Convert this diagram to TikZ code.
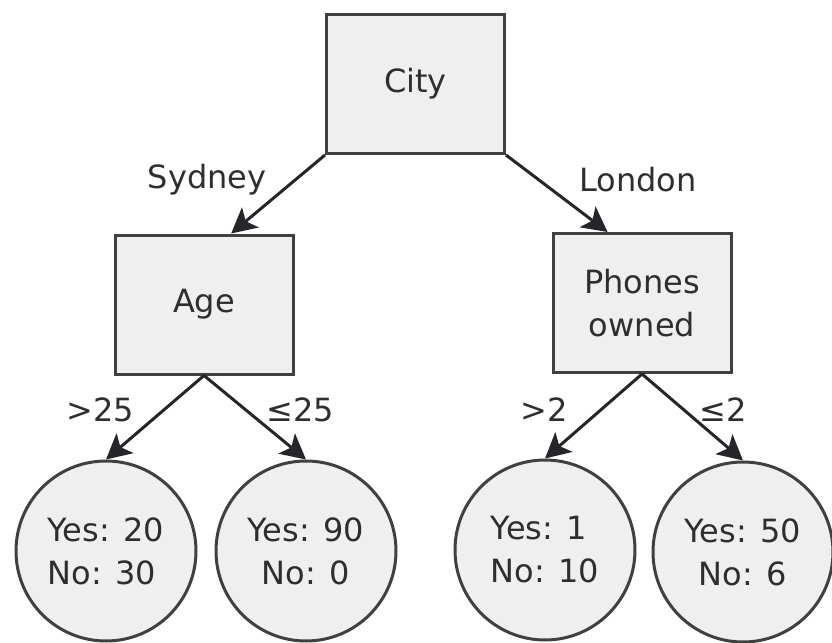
\documentclass[tikz,border=0pt]{standalone}
\usepackage{fontspec}
\setmainfont{DejaVu Sans}
\usetikzlibrary{arrows.meta,calc}
\definecolor{nodefill}{HTML}{EFEFEF}
\definecolor{nodeline}{HTML}{404040}
\definecolor{arrowcol}{HTML}{26262A}
\definecolor{textcol}{HTML}{2E2E2E}

\begin{document}
\begin{tikzpicture}[x=0.5pt, y=-0.5pt, line width=1.5pt,
    every node/.style={font=\fontsize{16}{21.5}\selectfont, text=textcol},
    split/.style={rectangle, draw=nodeline, fill=nodefill, minimum width=89pt, minimum height=69.5pt, align=center, inner sep=0pt},
    leaf/.style={circle, draw=nodeline, fill=nodefill, minimum size=90pt, align=center, inner sep=0pt},
    lbl/.style={rectangle, inner sep=0pt},
    arr/.style={draw=arrowcol, -{Stealth[length=12.5pt, width=13pt, inset=3pt]}}]
    \useasboundingbox (0,0) rectangle (832,643);

    % --- splits ---
    \node[split] (city) at (415.5,84) {City};
    \node[split] (age) at (204,304.5) {Age};
    \node[split] (phones) at (642,303) {Phones\\owned};

    % --- leaves ---
    \node[leaf, align=left] (old) at (106,551) {Yes: 20\\No: 30};
    \node[leaf] (young) at (306,551) {Yes: 90\\No: 0};
    \node[leaf, align=left] (many) at (545,550) {Yes: 1\\No: 10};
    \node[leaf] (few) at (743,552) {Yes: 50\\No: 6};

    % --- edges ---
    \draw[arr] (city.south west) -- ($(age.north west)!0.65!(age.north east)$);
    \draw[arr] (city.south east) -- ($(phones.north west)!0.31!(phones.north east)$);
    \draw[arr] (age.south) -- (old.north);
    \draw[arr] (age.south) -- (young.north);
    \draw[arr] (phones.south) -- (many.north);
    \draw[arr] (phones.south) -- (few.north);

    % --- edge labels ---
    \node[lbl] (sydney) at (207,180) {Sydney};
    \node[lbl] (london) at (638,180) {London};
    \node[lbl] (agehi) at (100,410) {>25};
    \node[lbl] (agelo) at (300,410) {≤25};
    \node[lbl] (phhi) at (544,410) {>2};
    \node[lbl] (phlo) at (723,410) {≤2};
\end{tikzpicture}
\end{document}
